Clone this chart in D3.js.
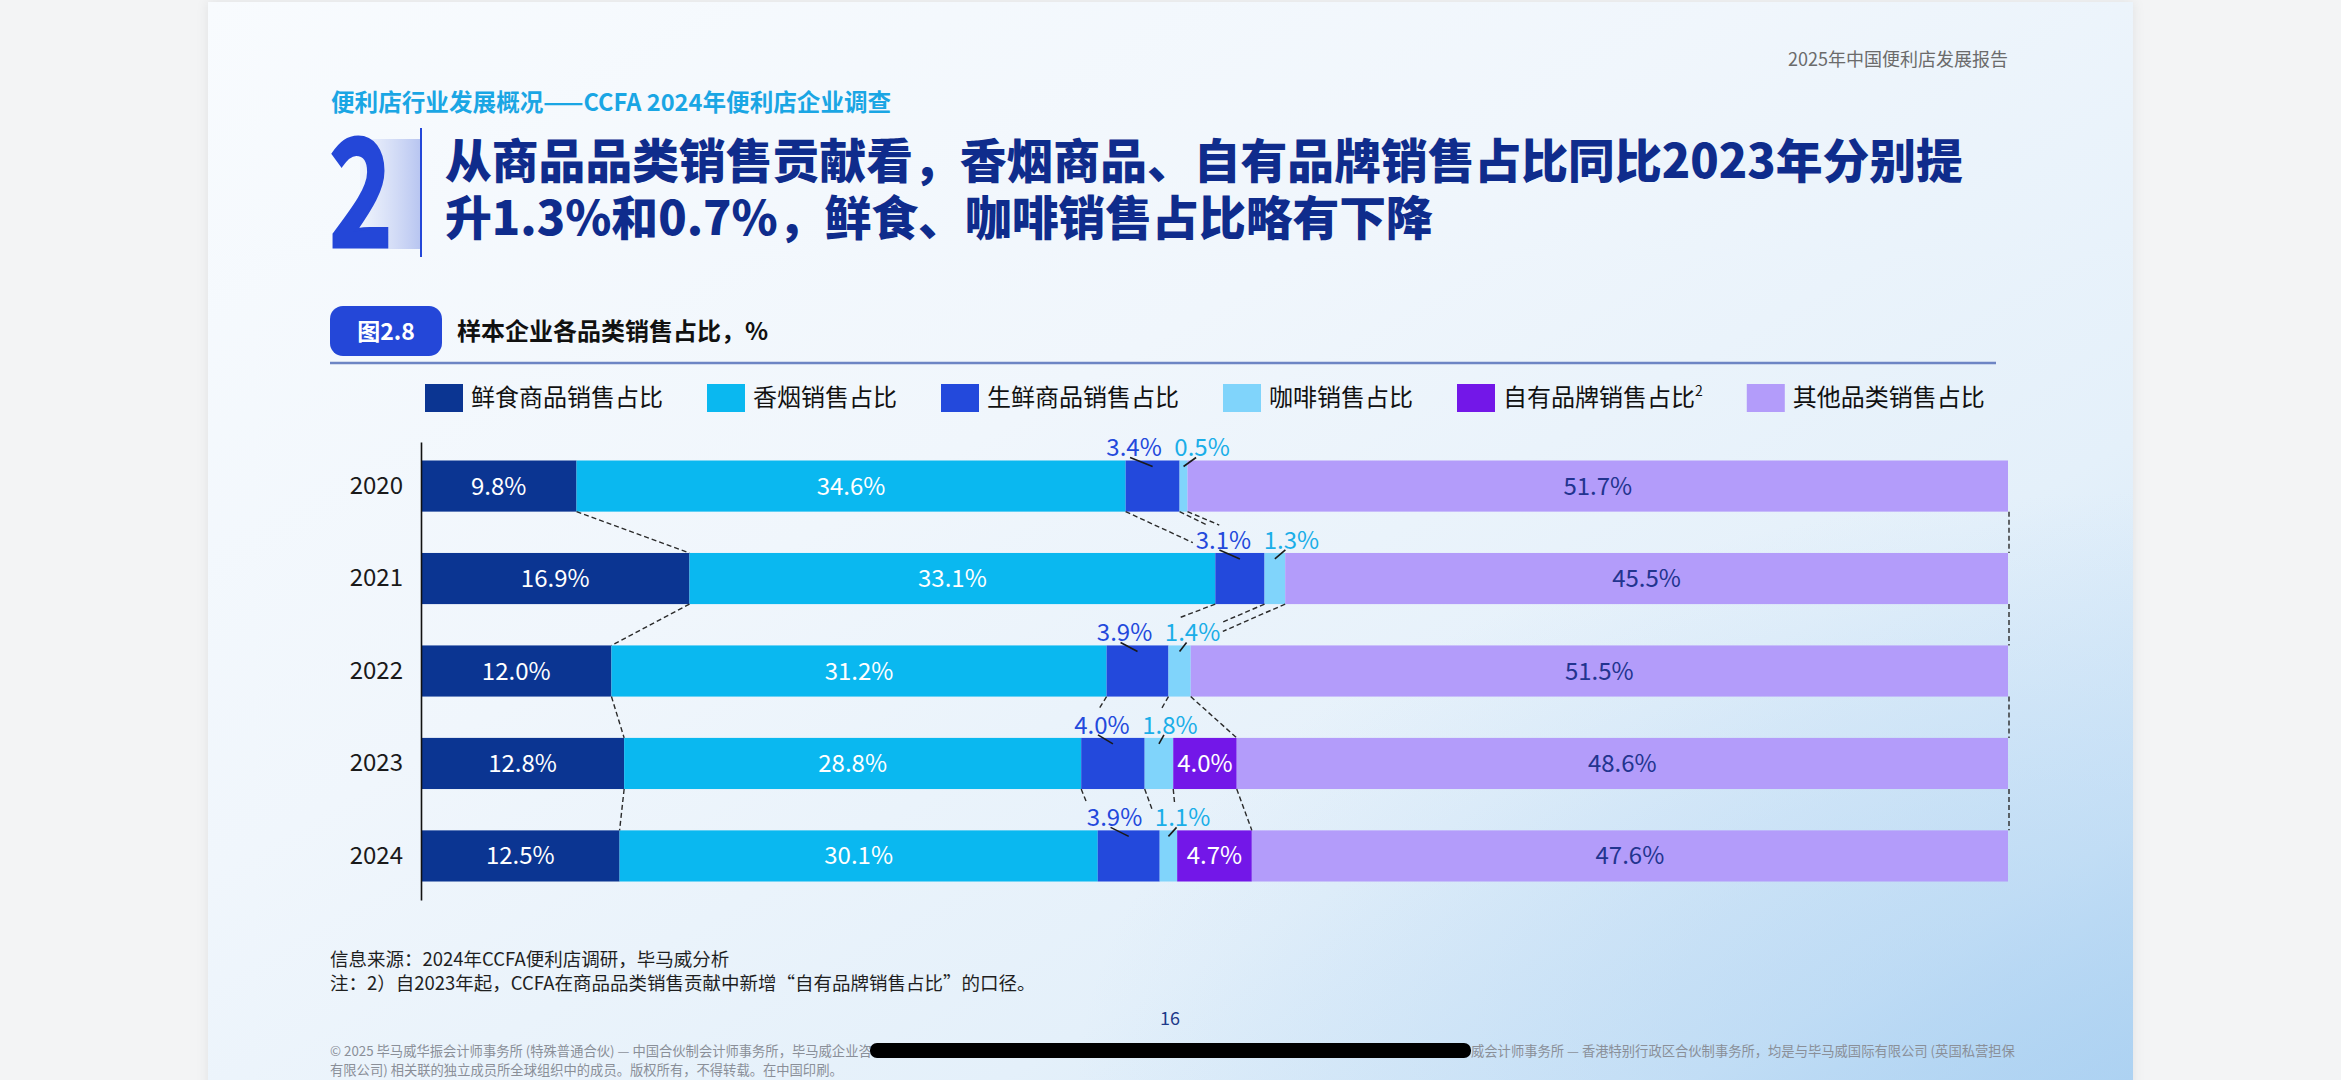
<!DOCTYPE html>
<html><head><meta charset="utf-8">
<script src="https://cdn.jsdelivr.net/npm/d3@7/dist/d3.min.js"></script>
<style>
html,body{margin:0;padding:0;background:#f3f4f5;overflow:hidden;}
svg{display:block;}
text{font-family:"Noto Sans CJK SC","Noto Sans",sans-serif;}
</style></head><body>
<svg id="c" width="2341" height="1080"></svg>
<script>
// ---------- data ----------
const years = ["2020","2021","2022","2023","2024"];
const categories = ["鲜食商品销售占比","香烟销售占比","生鲜商品销售占比","咖啡销售占比","自有品牌销售占比","其他品类销售占比"];
const freshFood    = [9.8, 16.9, 12.0, 12.8, 12.5];
const tobacco      = [34.6, 33.1, 31.2, 28.8, 30.1];
const produce      = [3.4, 3.1, 3.9, 4.0, 3.9];
const coffee       = [0.5, 1.3, 1.4, 1.8, 1.1];
const privateLabel = [null, null, null, 4.0, 4.7];
const others       = [51.7, 45.5, 51.5, 48.6, 47.6];
const seriesValues = [freshFood, tobacco, produce, coffee, privateLabel, others];

const colors = ["#0b3592","#0ab8f0","#2349dc","#80d4fb","#7317e8","#b39cfa"];
const insideLabelColors = ["#ffffff","#ffffff","#ffffff","#ffffff","#ffffff","#22348f"];
const outsideLabelColors = {2:"#2349dc", 3:"#1aaee8"};
const outsideCats = [2,3];

// ---------- setup ----------
const svg = d3.select("#c");
const defs = svg.append("defs");
const pg = defs.append("linearGradient").attr("id","pg").attr("x1",0).attr("y1",0).attr("x2",1).attr("y2",1);
[[0,"#f8fbfe"],[0.4,"#f0f6fc"],[0.7,"#e4f0fa"],[0.88,"#d3e7f8"],[1,"#b7d8f4"]].forEach(s=>pg.append("stop").attr("offset",s[0]).attr("stop-color",s[1]));
const rg = defs.append("radialGradient").attr("id","rg").attr("cx",1).attr("cy",1).attr("r",0.55);
rg.append("stop").attr("offset",0).attr("stop-color","#a8cff1").attr("stop-opacity",0.7);
rg.append("stop").attr("offset",1).attr("stop-color","#a8cff1").attr("stop-opacity",0);
const bg2 = defs.append("linearGradient").attr("id","bg2").attr("x1",0).attr("y1",0).attr("x2",1).attr("y2",0);
bg2.append("stop").attr("offset",0).attr("stop-color","#c8d2f4").attr("stop-opacity",0.15);
bg2.append("stop").attr("offset",1).attr("stop-color","#b4c2f0").attr("stop-opacity",0.95);
const sh = defs.append("filter").attr("id","sh").attr("x","-5%").attr("y","-5%").attr("width","110%").attr("height","110%");
sh.append("feDropShadow").attr("dx",0).attr("dy",0).attr("stdDeviation",6).attr("flood-color","#000").attr("flood-opacity",0.08);

// page
svg.append("rect").attr("x",208).attr("y",2).attr("width",1925).attr("height",1090).attr("fill","url(#pg)").attr("filter","url(#sh)");
svg.append("rect").attr("x",208).attr("y",2).attr("width",1925).attr("height",1090).attr("fill","url(#rg)");

// header
svg.append("text").attr("x",2008).attr("y",66).attr("text-anchor","end").attr("font-size",18).attr("fill","#6b6b6b").text("2025年中国便利店发展报告");
svg.append("text").attr("x",331).attr("y",111).attr("font-size",23.6).attr("font-weight",700).attr("fill","#1aa6e4").text("便利店行业发展概况——CCFA 2024年便利店企业调查");

// big number
svg.append("rect").attr("x",360).attr("y",139).attr("width",61).attr("height",110).attr("fill","url(#bg2)");
svg.append("text").attr("transform","translate(329,247) scale(0.72,1)").attr("font-family","Liberation Sans, Arial, sans-serif").attr("font-weight",700).attr("font-size",150).attr("fill","#2447d8").attr("stroke","#2447d8").attr("stroke-width",3).text("2");
svg.append("line").attr("x1",421).attr("x2",421).attr("y1",128).attr("y2",257).attr("stroke","#2447d8").attr("stroke-width",2);

// title
const titleLines = ["从商品品类销售贡献看，香烟商品、自有品牌销售占比同比2023年分别提","升1.3%和0.7%，鲜食、咖啡销售占比略有下降"];
titleLines.forEach((t,i)=>svg.append("text").attr("x",445).attr("y",178+i*57).attr("font-size",46.8).attr("font-weight",900).attr("fill","#0f2c8c").text(t));

// badge + chart title
svg.append("rect").attr("x",330).attr("y",306).attr("width",112).attr("height",50).attr("rx",13).attr("fill","#2447d8");
svg.append("text").attr("x",386).attr("y",340).attr("text-anchor","middle").attr("font-size",23).attr("font-weight",700).attr("fill","#fff").text("图2.8");
svg.append("text").attr("x",457).attr("y",340).attr("font-size",24).attr("font-weight",700).attr("fill","#111").text("样本企业各品类销售占比，%");
svg.append("line").attr("x1",330).attr("x2",1996).attr("y1",363).attr("y2",363).attr("stroke","#6d85c4").attr("stroke-width",2.5);

// legend
const leg = svg.append("g");
let lx = 425;
categories.forEach((c,k)=>{
  const g = leg.append("g").attr("transform",`translate(${lx},0)`);
  g.append("rect").attr("x",0).attr("y",384).attr("width",38).attr("height",28).attr("fill",colors[k]);
  const t = g.append("text").attr("x",46).attr("y",406).attr("font-size",24).attr("fill","#111").text(c);
  if(k===4){ t.append("tspan").attr("font-size",14).attr("dy",-10).text("2"); }
  const w = t.node().getComputedTextLength();
  lx += 46 + w + 44;
});

// ---------- chart ----------
const x = d3.scaleLinear().domain([0,1]).range([421,2008]);
const y = d3.scaleBand().domain(years).range([442,900]).paddingInner(0.447).paddingOuter(0.2);
const bw = y.bandwidth();

const rows = years.map((yr,i)=>{ const o={year:yr}; categories.forEach((c,k)=>o[c]=seriesValues[k][i]); return o; });
const stack = d3.stack().keys(categories).value((d,k)=>d[k]||0).offset(d3.stackOffsetExpand)(rows);

const gBars = svg.append("g");
const gConn = svg.append("g");
const gLab = svg.append("g");

stack.forEach((s,k)=>{
  s.forEach((p,i)=>{
    const v = seriesValues[k][i];
    if(v==null) return;
    gBars.append("rect").attr("x",x(p[0])).attr("y",y(years[i])).attr("width",x(p[1])-x(p[0])).attr("height",bw).attr("fill",colors[k]);
  });
});

// labels
const labelBoxes = years.map(()=>[]);
stack.forEach((s,k)=>{
  s.forEach((p,i)=>{
    const v = seriesValues[k][i];
    if(v==null) return;
    const cx = (x(p[0])+x(p[1]))/2;
    const top = y(years[i]);
    if(outsideCats.includes(k)) return;
    gLab.append("text").attr("x",cx).attr("y",top+bw/2+8.5).attr("text-anchor","middle").attr("font-size",24).attr("fill",insideLabelColors[k]).text(v.toFixed(1)+"%");
  });
});
years.forEach((yr,i)=>{
  const pA = stack[2][i], pB = stack[3][i];
  const cA = (x(pA[0])+x(pA[1]))/2, cB = (x(pB[0])+x(pB[1]))/2;
  const mid = (cA+cB)/2;
  const top = y(yr);
  const base = top-4;
  [[2,mid-34,cA,-4],[3,mid+34,cB,-6]].forEach(([k,lxp,sc,dx])=>{
    const v = seriesValues[k][i];
    const t = gLab.append("text").attr("x",lxp).attr("y",base).attr("text-anchor","middle").attr("font-size",24).attr("fill",outsideLabelColors[k]).text(v.toFixed(1)+"%");
    const b = t.node().getBBox();
    labelBoxes[i].push({x0:b.x-3,x1:b.x+b.width+3,y0:b.y+4,y1:b.y+b.height});
    gLab.append("line").attr("x1",lxp+dx).attr("y1",base+1).attr("x2",sc).attr("y2",top+6).attr("stroke","#1a1a1a").attr("stroke-width",1.6);
  });
});

// connectors
function drawConn(x1,y1,x2,y2,boxes){
  let ex=x2, ey=y2;
  const n=200;
  for(let j=0;j<=n;j++){
    const t=j/n, px=x1+(x2-x1)*t, py=y1+(y2-y1)*t;
    if(boxes.some(b=>px>=b.x0&&px<=b.x1&&py>=b.y0&&py<=b.y1)){ ex=px; ey=py; break; }
  }
  gConn.append("line").attr("x1",x1).attr("y1",y1).attr("x2",ex).attr("y2",ey)
    .attr("stroke","#2a2a2a").attr("stroke-width",1.4).attr("stroke-dasharray","5,3");
}
for(let i=0;i<years.length-1;i++){
  const yb = y(years[i])+bw, yt = y(years[i+1]);
  stack.forEach((s,k)=>{
    if(seriesValues[k][i]==null||seriesValues[k][i+1]==null) return;
    if(s[i][0]<=0) return;
    drawConn(x(s[i][0]),yb,x(s[i+1][0]),yt,labelBoxes[i+1]);
  });
  drawConn(x(1)+1,yb,x(1)+1,yt,[]);
}

// axis
const ax = svg.append("g").attr("transform",`translate(${x(0)},0)`).call(d3.axisLeft(y).tickSize(0).tickSizeOuter(0).tickPadding(18));
ax.select(".domain").attr("stroke","#111").attr("stroke-width",1.6);
ax.selectAll("text").attr("font-size",24).attr("fill","#1a1a1a").attr("font-family","Noto Sans CJK SC, Noto Sans, sans-serif");

// footnotes
svg.append("text").attr("x",330).attr("y",966).attr("font-size",18.5).attr("fill","#1f1f1f").text("信息来源：2024年CCFA便利店调研，毕马威分析");
svg.append("text").attr("x",330).attr("y",990).attr("font-size",18.5).attr("fill","#1f1f1f").text("注：2）自2023年起，CCFA在商品品类销售贡献中新增“自有品牌销售占比”的口径。");
svg.append("text").attr("x",1170).attr("y",1025).attr("text-anchor","middle").attr("font-size",18).attr("fill","#1e3a8a").text("16");

svg.append("text").attr("x",330).attr("y",1056).attr("font-size",13.3).attr("fill","#8a8f98").text("© 2025 毕马威华振会计师事务所 (特殊普通合伙) — 中国合伙制会计师事务所，毕马威企业咨");
svg.append("rect").attr("x",870).attr("y",1043).attr("width",601).attr("height",15).attr("rx",7).attr("fill","#000");
svg.append("text").attr("x",1471).attr("y",1056).attr("font-size",13.3).attr("fill","#8a8f98").text("威会计师事务所 — 香港特别行政区合伙制事务所，均是与毕马威国际有限公司 (英国私营担保");
svg.append("text").attr("x",330).attr("y",1075).attr("font-size",13.3).attr("fill","#8a8f98").text("有限公司) 相关联的独立成员所全球组织中的成员。版权所有，不得转载。在中国印刷。");
</script>
</body></html>
